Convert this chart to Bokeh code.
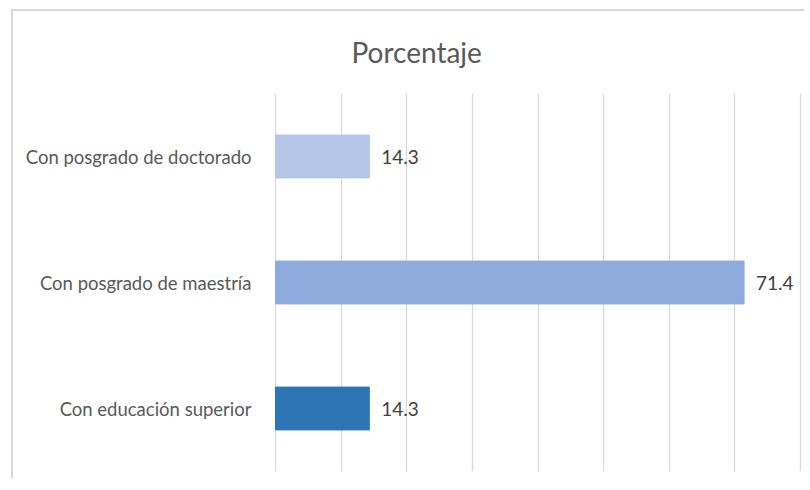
from bokeh.plotting import figure
from bokeh.models import ColumnDataSource, FactorRange
from bokeh.core.properties import value
from bokeh.embed import file_html
from bokeh.resources import INLINE

categories = ["Con educación superior", "Con posgrado de maestría", "Con posgrado de doctorado"]
values = [14.3, 71.4, 14.3]
colors = ["#2E75B6", "#8FAADC", "#B4C7E7"]
labels = ["14.3", "71.4", "14.3"]
grid_ticks = [0, 10, 20, 30, 40, 50, 60, 70, 80]
title_text = "Porcentaje"
FONT = "Lato"

src = ColumnDataSource(dict(cat=categories, val=values, color=colors, lab=labels))

p = figure(width=804, height=478, y_range=FactorRange(*categories), x_range=(-0.15, 80.15),
           output_backend="svg", toolbar_location=None,
           min_border_left=274, min_border_right=3, min_border_top=93, min_border_bottom=7,
           title=title_text)
p.outline_line_color = None
p.background_fill_color = "white"
p.border_fill_alpha = 0

p.title.align = "left"
p.title.offset = 77
p.title.standoff = 49
p.title.text_color = "#595959"
p.title.text_font = FONT
p.title.text_font_size = "28px"
p.title.text_font_style = "normal"

p.hbar(y="cat", right="val", left=0, height=0.34, color="color", source=src)
p.text(x="val", y="cat", text="lab", source=src, x_offset=12, text_baseline="middle",
       text_align="left", text_color="#404040", text_font_size="19px", text_font=value(FONT))

p.xaxis.visible = False
p.xaxis.ticker = grid_ticks
p.xgrid.ticker = grid_ticks
p.xgrid.grid_line_color = "#D9D9D9"
p.xgrid.grid_line_width = 1.3
p.ygrid.visible = False

p.yaxis.axis_line_color = None
p.yaxis.major_tick_line_color = None
p.yaxis.minor_tick_line_color = None
p.yaxis.major_tick_out = 0
p.yaxis.major_tick_in = 0
p.yaxis.major_label_standoff = 23
p.yaxis.major_label_text_color = "#595959"
p.yaxis.major_label_text_font = FONT
p.yaxis.major_label_text_font_size = "18.5px"

p.stylesheets = [""":host {
  background-color: white;
  background-image: linear-gradient(#D9D9D9, #D9D9D9), linear-gradient(#D9D9D9, #D9D9D9);
  background-size: 2px calc(100% - 9px), calc(100% - 11px) 2px;
  background-position: 11px 9px, 11px 9px;
  background-repeat: no-repeat;
}"""]

open("out.html", "w").write(file_html(p, INLINE))
